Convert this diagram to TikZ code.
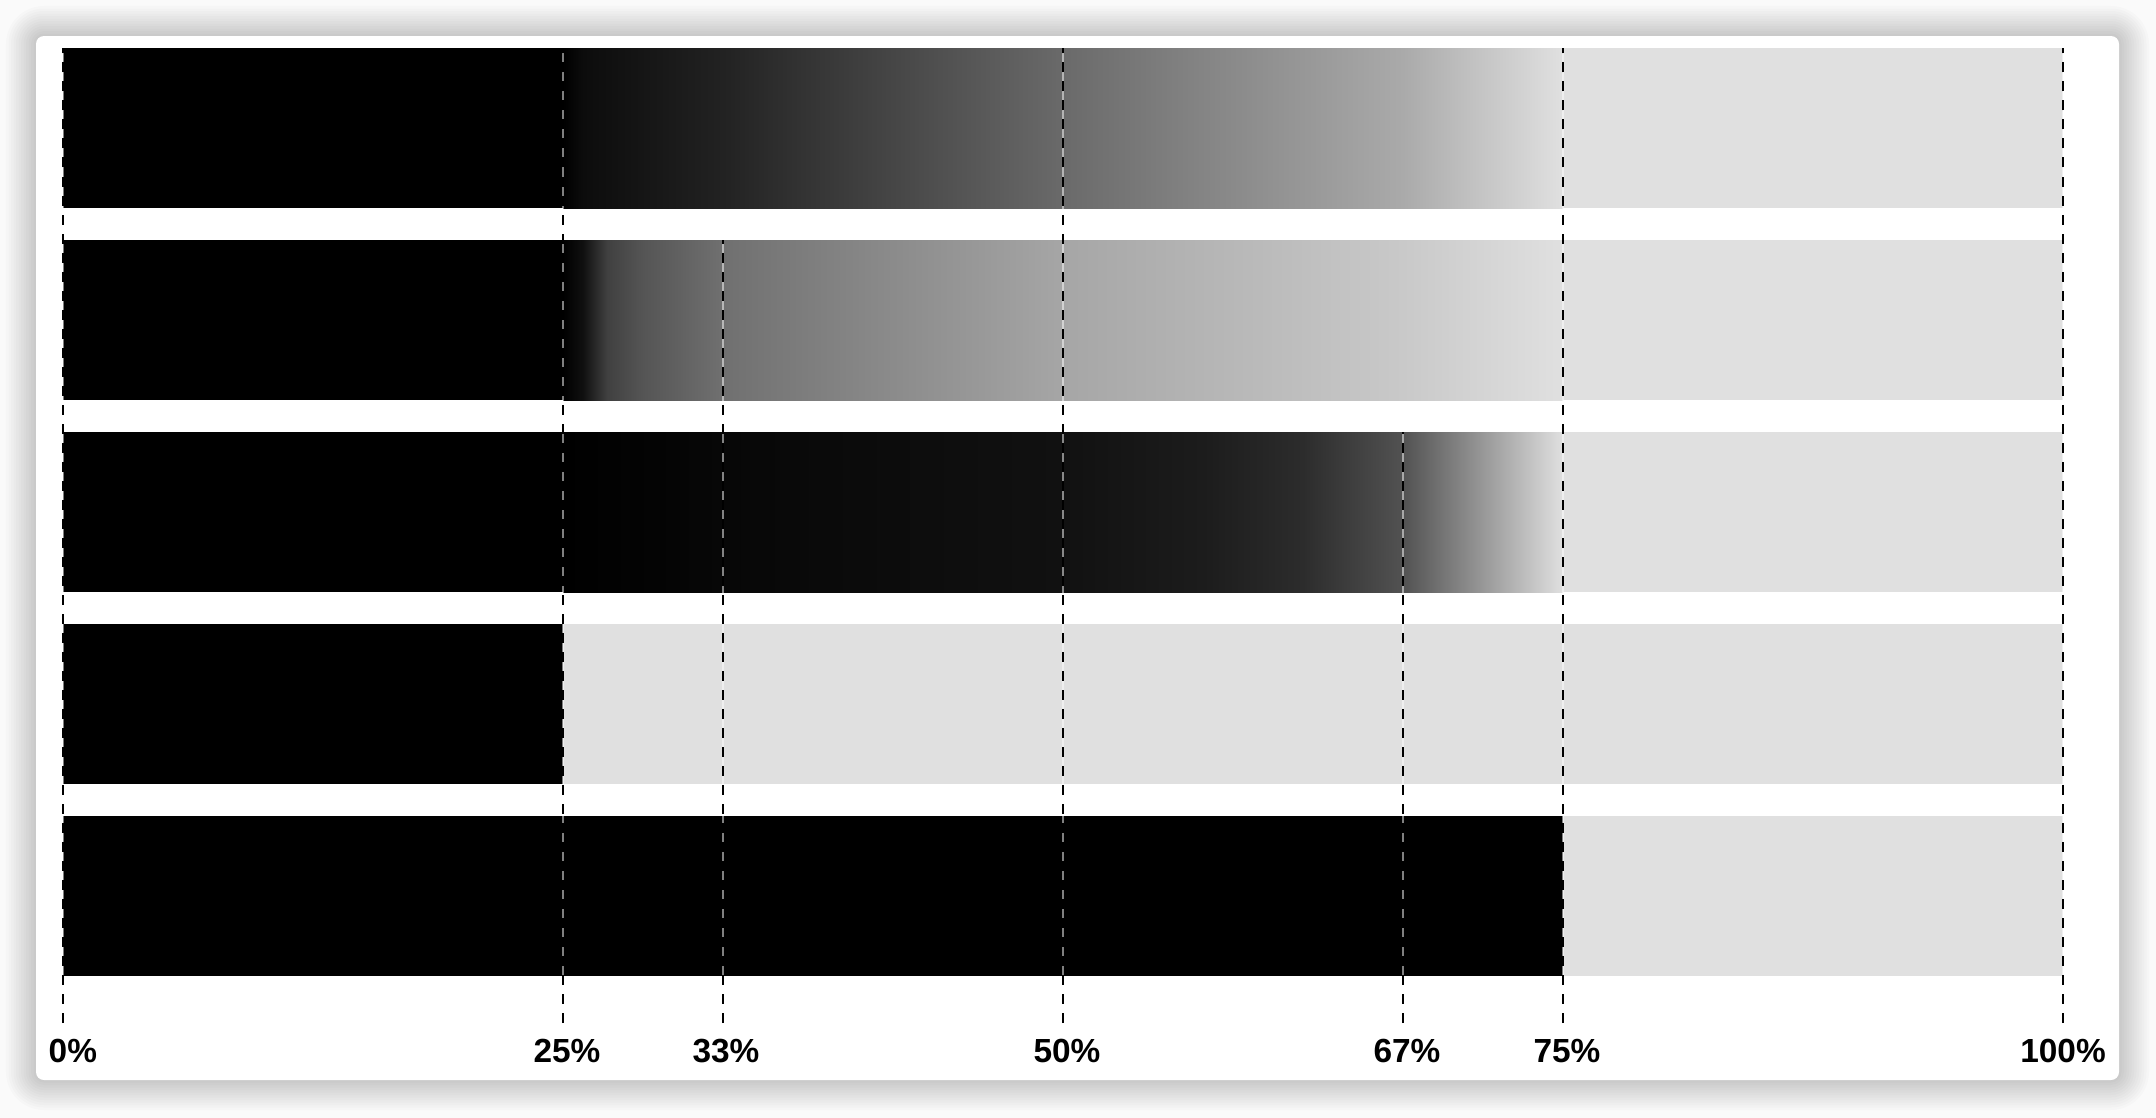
\documentclass[tikz,border=0pt]{standalone}
\usepackage{fontspec}
\setmainfont{Liberation Sans}
\usetikzlibrary{positioning}

\definecolor{pagebg}{HTML}{FAFAFA}
\definecolor{track}{HTML}{E0E0E0}
\definecolor{gA1}{HTML}{0C0C0C}\definecolor{gA2}{HTML}{222222}
\definecolor{gA3}{HTML}{6A6A6A}\definecolor{gA4}{HTML}{AAAAAA}
\definecolor{gB1}{HTML}{101010}\definecolor{gB2}{HTML}{404040}
\definecolor{gB3}{HTML}{555555}\definecolor{gB4}{HTML}{707070}
\definecolor{gB5}{HTML}{A6A6A6}\definecolor{gB6}{HTML}{C9C9C9}
\definecolor{gC1}{HTML}{070707}\definecolor{gC2}{HTML}{111111}
\definecolor{gC3}{HTML}{1C1C1C}\definecolor{gC4}{HTML}{2C2C2C}
\definecolor{gC5}{HTML}{525252}\definecolor{gC6}{HTML}{989898}

% stops in bp = percent of the bar, shading laid on 25%..75%
\pgfdeclarehorizontalshading{fadeslow}{100bp}{color(0bp)=(black); color(25bp)=(black);
  color(26bp)=(gA1); color(33bp)=(gA2); color(50bp)=(gA3); color(67bp)=(gA4);
  color(75bp)=(track); color(100bp)=(track)}
\pgfdeclarehorizontalshading{fadefast}{100bp}{color(0bp)=(black); color(25bp)=(black);
  color(26bp)=(gB1); color(27.2bp)=(gB2); color(29bp)=(gB3); color(33bp)=(gB4);
  color(50bp)=(gB5); color(67bp)=(gB6); color(75bp)=(track); color(100bp)=(track)}
\pgfdeclarehorizontalshading{fadelate}{100bp}{color(0bp)=(black); color(25bp)=(black);
  color(33bp)=(gC1); color(50bp)=(gC2); color(57bp)=(gC3); color(62bp)=(gC4);
  color(67bp)=(gC5); color(71bp)=(gC6); color(75bp)=(track); color(100bp)=(track)}

\tikzset{px/.style={x=0.01cm, y=-0.01cm},
	 card/.style={fill=white, rounded corners=0.08cm},
	 bartrack/.style={fill=track},
	 barfull/.style={fill=black},
	 guide/.style={draw=black, line width=0.02cm, dash pattern=on 0.1cm off 0.09cm},
	 glow/.style={draw=white, draw opacity=0.5, line width=0.02cm},
	 tick/.style={font=\fontsize{9.5}{11}\selectfont\bfseries, inner sep=0pt, anchor=base}
	 }

\begin{document}
\begin{tikzpicture}[px]
	\useasboundingbox[fill=pagebg] (0,0) rectangle (2156,1118);

	\foreach \i in {1,...,12}{
		\pgfmathsetmacro{\d}{2.5*\i}
		\fill[black, opacity=0.014, rounded corners={(8+\d)*0.01cm}]
			(36-\d,36-\d) rectangle (2119+\d,1080+\d);
	}
	\fill[card] (36,36) rectangle (2119,1080);

	% bars, top to bottom
	\foreach \r in {0,...,4}{
		\fill[bartrack] (63,48+192*\r) rectangle (2063,208+192*\r);
	}
	\fill[barfull] (63,48) rectangle (564,208);
	\shade[shading=fadeslow] (563,48) rectangle (1563,208);
	\fill[barfull] (63,240) rectangle (564,400);
	\shade[shading=fadefast] (563,240) rectangle (1563,400);
	\fill[barfull] (63,432) rectangle (564,592);
	\shade[shading=fadelate] (563,432) rectangle (1563,592);
	\fill[barfull] (63,624) rectangle (563,784);
	\fill[barfull] (63,816) rectangle (1563,976);

	\foreach \p/\x/\y in {0/63/48, 25/563/48, 33/723/240, 50/1063/48,
			67/1403/432, 75/1563/48, 100/2063/48}{
		\coordinate (top\p) at (\x,\y);
		\coordinate (bot\p) at (\x,1023);
		\draw[glow] (bot\p) -- (top\p);
		\draw[guide] (bot\p) -- (top\p);
	}

	\node[tick, anchor=base west] (lab0) at (48,1062) {0\%};
	\foreach \p/\x in {25/567, 33/726, 50/1067, 67/1407, 75/1567, 100/2063}{
		\node[tick] (lab\p) at (\x,1062) {\p\%};
	}
\end{tikzpicture}
\end{document}
